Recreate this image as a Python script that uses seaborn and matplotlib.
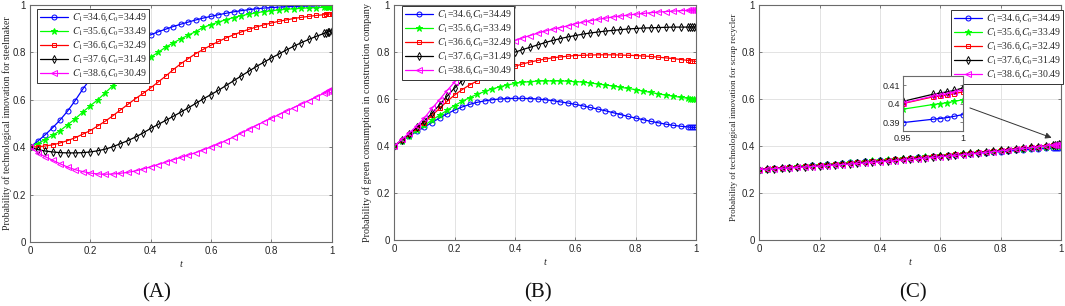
import numpy as np
import pandas as pd
import matplotlib
matplotlib.use("Agg")
import matplotlib.pyplot as plt
import seaborn as sns

# ---------------- data ----------------
t = [0.000, 0.025, 0.050, 0.075, 0.100, 0.125, 0.150, 0.175, 0.200, 0.225,
     0.250, 0.275, 0.300, 0.325, 0.350, 0.375, 0.400, 0.425, 0.450, 0.475,
     0.500, 0.525, 0.550, 0.575, 0.600, 0.625, 0.650, 0.675, 0.700, 0.725,
     0.750, 0.775, 0.800, 0.825, 0.850, 0.875, 0.900, 0.925, 0.950,
     0.975, 0.981, 0.987, 0.993, 1.000]

labels = [r"$C_1$=34.6,$C_0$=34.49", r"$C_1$=35.6,$C_0$=33.49", r"$C_1$=36.6,$C_0$=32.49",
          r"$C_1$=37.6,$C_0$=31.49", r"$C_1$=38.6,$C_0$=30.49"]

# Panel A: steelmaker
A_blue = [0.400, 0.425, 0.452, 0.482, 0.515, 0.553, 0.597, 0.645, 0.688, 0.725,
          0.757, 0.785, 0.808, 0.828, 0.845, 0.860, 0.874, 0.887, 0.898, 0.909,
          0.919, 0.928, 0.937, 0.945, 0.952, 0.959, 0.965, 0.971, 0.976, 0.980,
          0.984, 0.987, 0.989, 0.991, 0.993, 0.994, 0.995, 0.996, 0.997,
          0.998, 0.998, 0.998, 0.999, 0.999]
A_green = [0.400, 0.415, 0.432, 0.450, 0.470, 0.495, 0.520, 0.548, 0.575, 0.600,
           0.630, 0.660, 0.685, 0.710, 0.735, 0.758, 0.780, 0.800, 0.822, 0.840,
           0.857, 0.873, 0.888, 0.906, 0.917, 0.928, 0.938, 0.947, 0.955, 0.961,
           0.967, 0.972, 0.976, 0.979, 0.982, 0.984, 0.986, 0.988, 0.989,
           0.990, 0.990, 0.991, 0.991, 0.992]
A_red = [0.400, 0.402, 0.405, 0.410, 0.418, 0.428, 0.440, 0.455, 0.470, 0.490,
         0.510, 0.533, 0.557, 0.581, 0.605, 0.627, 0.650, 0.675, 0.700, 0.727,
         0.752, 0.774, 0.795, 0.813, 0.830, 0.846, 0.861, 0.874, 0.886, 0.897,
         0.907, 0.916, 0.924, 0.931, 0.937, 0.943, 0.948, 0.952, 0.956,
         0.959, 0.960, 0.961, 0.962, 0.963]
A_black = [0.400, 0.390, 0.384, 0.380, 0.377, 0.376, 0.376, 0.377, 0.380, 0.385,
           0.392, 0.402, 0.415, 0.428, 0.443, 0.460, 0.479, 0.496, 0.513, 0.530,
           0.548, 0.566, 0.585, 0.604, 0.622, 0.640, 0.660, 0.680, 0.700, 0.720,
           0.740, 0.758, 0.776, 0.793, 0.810, 0.826, 0.841, 0.855, 0.868,
           0.880, 0.883, 0.886, 0.888, 0.891]
A_magenta = [0.400, 0.377, 0.360, 0.345, 0.330, 0.316, 0.305, 0.297, 0.291, 0.287,
             0.286, 0.287, 0.290, 0.294, 0.300, 0.308, 0.317, 0.327, 0.337, 0.347,
             0.357, 0.367, 0.377, 0.389, 0.401, 0.414, 0.428, 0.443, 0.459, 0.475,
             0.491, 0.507, 0.522, 0.537, 0.552, 0.567, 0.582, 0.597, 0.612,
             0.628, 0.632, 0.636, 0.641, 0.646]

# Panel B: construction company
B_blue = [0.400, 0.421, 0.442, 0.462, 0.481, 0.500, 0.519, 0.537, 0.553, 0.566,
          0.577, 0.586, 0.592, 0.597, 0.600, 0.602, 0.603, 0.603, 0.602, 0.600,
          0.597, 0.593, 0.588, 0.583, 0.577, 0.571, 0.564, 0.557, 0.550, 0.542,
          0.534, 0.526, 0.519, 0.512, 0.505, 0.499, 0.493, 0.488, 0.484,
          0.481, 0.480, 0.480, 0.479, 0.479]
B_green = [0.400, 0.422, 0.444, 0.466, 0.488, 0.510, 0.531, 0.552, 0.572, 0.590,
           0.606, 0.620, 0.632, 0.643, 0.652, 0.660, 0.666, 0.671, 0.674, 0.676,
           0.677, 0.677, 0.677, 0.676, 0.674, 0.672, 0.668, 0.664, 0.660, 0.655,
           0.650, 0.645, 0.640, 0.634, 0.628, 0.622, 0.617, 0.612, 0.607,
           0.603, 0.602, 0.601, 0.600, 0.600]
B_red = [0.400, 0.425, 0.450, 0.475, 0.500, 0.530, 0.560, 0.590, 0.617, 0.640,
         0.660, 0.677, 0.690, 0.702, 0.716, 0.728, 0.739, 0.749, 0.757, 0.764,
         0.770, 0.775, 0.779, 0.782, 0.785, 0.786, 0.787, 0.788, 0.788, 0.788,
         0.787, 0.786, 0.785, 0.783, 0.781, 0.778, 0.775, 0.772, 0.768,
         0.764, 0.763, 0.762, 0.761, 0.760]
B_black = [0.400, 0.426, 0.452, 0.479, 0.506, 0.540, 0.575, 0.612, 0.647, 0.677,
           0.703, 0.727, 0.745, 0.760, 0.774, 0.787, 0.799, 0.810, 0.820, 0.830,
           0.840, 0.849, 0.857, 0.864, 0.870, 0.876, 0.881, 0.885, 0.889, 0.892,
           0.895, 0.898, 0.900, 0.902, 0.903, 0.904, 0.905, 0.906, 0.906,
           0.906, 0.906, 0.906, 0.906, 0.906]
B_magenta = [0.400, 0.428, 0.456, 0.486, 0.520, 0.560, 0.597, 0.636, 0.672, 0.703,
             0.730, 0.755, 0.780, 0.800, 0.818, 0.835, 0.848, 0.860, 0.870, 0.880,
             0.889, 0.897, 0.904, 0.911, 0.920, 0.927, 0.933, 0.939, 0.944, 0.949,
             0.953, 0.957, 0.961, 0.964, 0.967, 0.970, 0.972, 0.974, 0.976,
             0.977, 0.978, 0.978, 0.979, 0.979]

# Panel C: scrap recycler
C_blue = [0.3000, 0.3025, 0.3051, 0.3076, 0.3101, 0.3126, 0.3151, 0.3176, 0.3201, 0.3225,
          0.3250, 0.3274, 0.3299, 0.3323, 0.3347, 0.3371, 0.3395, 0.3419, 0.3443, 0.3466,
          0.3490, 0.3513, 0.3537, 0.3560, 0.3583, 0.3606, 0.3629, 0.3652, 0.3675, 0.3697,
          0.3720, 0.3742, 0.3765, 0.3787, 0.3809, 0.3831, 0.3853, 0.3875, 0.3898,
          0.3916, 0.3920, 0.3925, 0.3932, 0.3941]
C_green = [0.3000, 0.3026, 0.3051, 0.3077, 0.3102, 0.3128, 0.3153, 0.3179, 0.3204, 0.3230,
           0.3255, 0.3281, 0.3306, 0.3332, 0.3357, 0.3383, 0.3408, 0.3434, 0.3459, 0.3485,
           0.3510, 0.3536, 0.3561, 0.3587, 0.3612, 0.3638, 0.3663, 0.3689, 0.3714, 0.3740,
           0.3765, 0.3791, 0.3816, 0.3842, 0.3867, 0.3893, 0.3918, 0.3944, 0.3970,
           0.3995, 0.4000, 0.4005, 0.4012, 0.4021]
C_red = [0.3000, 0.3022, 0.3044, 0.3066, 0.3089, 0.3111, 0.3134, 0.3158, 0.3181, 0.3205,
         0.3229, 0.3253, 0.3278, 0.3302, 0.3327, 0.3352, 0.3378, 0.3404, 0.3430, 0.3456,
         0.3482, 0.3509, 0.3536, 0.3563, 0.3591, 0.3618, 0.3646, 0.3674, 0.3703, 0.3731,
         0.3760, 0.3789, 0.3819, 0.3848, 0.3878, 0.3908, 0.3939, 0.3969, 0.4000,
         0.4036, 0.4040, 0.4046, 0.4054, 0.4063]
C_black = [0.3000, 0.3018, 0.3037, 0.3057, 0.3076, 0.3097, 0.3117, 0.3138, 0.3160, 0.3182,
           0.3204, 0.3227, 0.3250, 0.3274, 0.3298, 0.3323, 0.3348, 0.3374, 0.3400, 0.3426,
           0.3453, 0.3480, 0.3508, 0.3536, 0.3565, 0.3594, 0.3623, 0.3653, 0.3684, 0.3715,
           0.3746, 0.3778, 0.3810, 0.3843, 0.3876, 0.3910, 0.3944, 0.3978, 0.4012,
           0.4050, 0.4057, 0.4063, 0.4071, 0.4084]
C_magenta = [0.3000, 0.3017, 0.3034, 0.3051, 0.3069, 0.3088, 0.3107, 0.3127, 0.3147, 0.3168,
             0.3189, 0.3211, 0.3233, 0.3256, 0.3280, 0.3304, 0.3328, 0.3353, 0.3379, 0.3405,
             0.3431, 0.3458, 0.3487, 0.3515, 0.3543, 0.3572, 0.3603, 0.3633, 0.3663, 0.3694,
             0.3727, 0.3759, 0.3792, 0.3825, 0.3860, 0.3894, 0.3929, 0.3965, 0.4002,
             0.4040, 0.4046, 0.4054, 0.4061, 0.4075]

ylabels = ["Probability of technological innovation for steelmaker",
           "Probability of green consumption in construction company",
           "Probability of technological innovation for scrap recycler"]
panel_tags = ["(A)", "(B)", "(C)"]
xticks = [0, 0.2, 0.4, 0.6, 0.8, 1]
xtick_labels = ["0", "0.2", "0.4", "0.6", "0.8", "1"]
yticks = [0, 0.2, 0.4, 0.6, 0.8, 1]
ytick_labels = ["0", "0.2", "0.4", "0.6", "0.8", "1"]
inset_xticks = [0.95, 1.0]
inset_xtick_labels = ["0.95", "1"]
inset_yticks = [0.39, 0.40, 0.41]
inset_ytick_labels = ["0.39", "0.4", "0.41"]

# ---------------- style ----------------
sns.set_theme(style="white")
plt.rcParams["font.family"] = ["Liberation Sans", "DejaVu Sans"]
plt.rcParams["mathtext.fontset"] = "stix"

colors = ["#0000FF", "#00FF00", "#FF0000", "#000000", "#FF00FF"]
markers = ["o", "*", "s", "d", "<"]
filled = [False, True, False, False, False]
msizes = [3.6, 5.0, 3.2, 3.6, 3.8]

serif = ["Liberation Serif", "DejaVu Serif"]
tick_color = "#262626"
spine_color = "#6b6b6b"

fig = plt.figure(figsize=(10.65, 3.06), dpi=100)

axes_rects = [
    [30 / 1065, 64 / 306, 301.5 / 1065, 237 / 306],
    [394.3 / 1065, 66 / 306, 301.5 / 1065, 235 / 306],
    [759.3 / 1065, 66 / 306, 301.7 / 1065, 235 / 306],
]
label_x = [-0.060, -0.074, -0.071]
label_y = [0.502, 0.502, 0.523]
label_fs = [7.05, 7.3, 6.45]
tag_x = [157 / 1065, 538 / 1065, 913 / 1065]
legend_anchor = [(37 / 1065, 1 - 9 / 306), (402 / 1065, 1 - 6 / 306), (951 / 1065, 1 - 10 / 306)]

panels = [
    [A_blue, A_green, A_red, A_black, A_magenta],
    [B_blue, B_green, B_red, B_black, B_magenta],
    [C_blue, C_green, C_red, C_black, C_magenta],
]


def style_axes(ax, fs=7):
    for s in ax.spines.values():
        s.set_color(spine_color)
        s.set_linewidth(0.8)
    ax.tick_params(direction="in", length=2.5, width=0.6, colors=spine_color,
                   labelcolor=tick_color, labelsize=fs, top=True, right=True,
                   bottom=True, left=True, pad=3)


def draw_series(ax, xs, series_list, with_label=True):
    for i, ys in enumerate(series_list):
        kw = dict(marker=markers[i], markersize=msizes[i], markeredgewidth=0.7,
                  markeredgecolor=colors[i],
                  markerfacecolor=colors[i] if filled[i] else "none",
                  linewidth=0.9)
        sns.lineplot(x=xs, y=ys, ax=ax, color=colors[i], sort=False,
                     label=labels[i] if with_label else None, **kw)


for k in range(3):
    ax = fig.add_axes(axes_rects[k])
    draw_series(ax, t, panels[k])
    ax.set_xlim(0, 1)
    ax.set_ylim(0, 1)
    ax.set_xticks(xticks)
    ax.set_xticklabels(xtick_labels)
    ax.set_yticks(yticks)
    ax.set_yticklabels(ytick_labels)
    ax.grid(True, color="#e3e3e3", linewidth=0.7)
    ax.set_axisbelow(True)
    style_axes(ax)
    ax.set_xlabel("t", fontfamily=serif, fontstyle="italic", fontsize=7.5,
                  color=tick_color, labelpad=3)
    ax.set_ylabel(ylabels[k], fontfamily=serif, fontsize=label_fs[k], color=tick_color)
    ax.yaxis.set_label_coords(label_x[k], label_y[k])
    leg = ax.legend(loc="upper left", bbox_to_anchor=legend_anchor[k],
                    bbox_transform=fig.transFigure,
                    prop={"family": serif, "size": 7}, frameon=True,
                    fancybox=False, edgecolor="#333333", framealpha=1,
                    borderpad=0.3, labelspacing=0.15, handlelength=2.9,
                    handletextpad=0.35, borderaxespad=0, numpoints=1)
    leg.get_frame().set_linewidth(0.7)
    fig.text(tag_x[k], 13 / 306, panel_tags[k], fontfamily=serif, fontsize=15,
             ha="center", va="center", color="#111111")

    if k == 2:
        ax.annotate("", xy=(0.969, 0.435), xytext=(0.698, 0.562),
                    arrowprops=dict(arrowstyle="-|>", color="#333333", lw=0.7,
                                    mutation_scale=9, shrinkA=0, shrinkB=0))

# inset of panel C
ins = fig.add_axes([902.7 / 1065, (306 - 131) / 306, 60 / 1065, 55.3 / 306])
n0 = t.index(0.950)
draw_series(ins, t[n0:], [s[n0:] for s in panels[2]], with_label=False)
ins.set_xlim(0.95, 1.0)
ins.set_ylim(0.3853, 0.415)
ins.set_xticks(inset_xticks)
ins.set_xticklabels(inset_xtick_labels)
ins.set_yticks(inset_yticks)
ins.set_yticklabels(inset_ytick_labels)
ins.set_facecolor("white")
style_axes(ins, fs=6.5)
ins.tick_params(pad=2)
if ins.get_legend() is not None:
    ins.get_legend().remove()

fig.savefig("out.png", dpi=100)
